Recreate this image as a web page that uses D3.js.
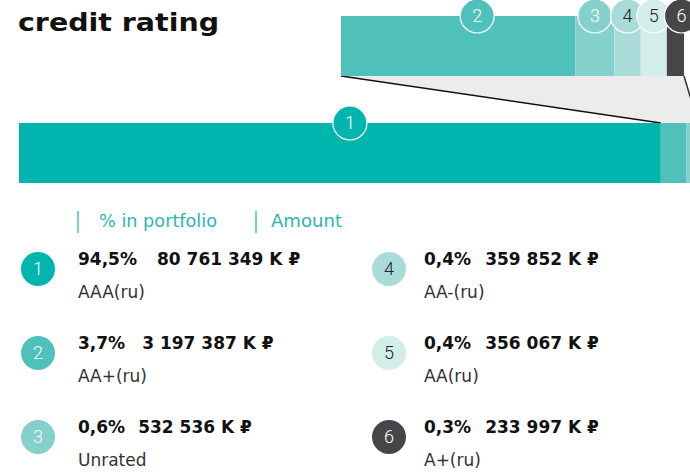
<!DOCTYPE html>
<html>
<head>
<meta charset="utf-8">
<script src="https://cdn.jsdelivr.net/npm/d3@7"></script>
<style>
  html, body { margin: 0; padding: 0; background: #fff; overflow: hidden; }
  svg { display: block; font-family: "DejaVu Sans", sans-serif; }
</style>
</head>
<body>
<div id="chart"></div>
<script>
const ratings = ["AAA(ru)", "AA+(ru)", "Unrated", "AA-(ru)", "AA(ru)", "A+(ru)"];
const shareLabels = ["94,5%", "3,7%", "0,6%", "0,4%", "0,4%", "0,3%"];
const amounts = [80761349, 3197387, 532536, 359852, 356067, 233997];

(function () {
  const width = 690, height = 474;
  const colors = ["#00b5ae", "#4fc1ba", "#84d0cb", "#a9dcd9", "#d3ede9", "#464547"];
  const darkText = [false, false, false, true, true, false];
  const teal = "#2bb7af";

  const data = amounts.map((v, i) => ({ i, id: i + 1, amount: v, rating: ratings[i], share: shareLabels[i] }));
  let acc = 0;
  data.forEach(d => { d.x0 = acc; acc += d.amount; d.x1 = acc; });
  const total = acc;

  const svg = d3.select("#chart").append("svg")
    .attr("width", width).attr("height", height);

  // title
  svg.append("text")
    .attr("x", 18).attr("y", 31)
    .attr("font-size", 25).attr("font-weight", 700)
    .attr("textLength", 201).attr("lengthAdjust", "spacingAndGlyphs")
    .attr("fill", "#111")
    .text("credit rating");

  // main bar
  const mainY = 123, barH = 60;
  const x = d3.scaleLinear().domain([0, total]).range([19, 698]);

  // zoomed bar (segments 2..6)
  const zoomY = 16;
  const xz = d3.scaleLinear().domain([data[1].x0, total]).range([341, 684]);
  const rest = data.slice(1);

  // connector
  const poly = [
    [xz(data[1].x0), zoomY + barH],
    [xz(total), zoomY + barH],
    [x(total), mainY],
    [x(data[1].x0), mainY]
  ];
  svg.append("path")
    .attr("d", d3.line()(poly) + "Z")
    .attr("fill", "#ececec");
  svg.append("line")
    .attr("x1", poly[0][0]).attr("y1", poly[0][1])
    .attr("x2", poly[3][0]).attr("y2", poly[3][1])
    .attr("stroke", "#111").attr("stroke-width", 1.5);
  svg.append("line")
    .attr("x1", poly[1][0]).attr("y1", poly[1][1])
    .attr("x2", poly[2][0]).attr("y2", poly[2][1])
    .attr("stroke", "#333").attr("stroke-width", 1.5);

  svg.append("g").selectAll("rect")
    .data(data)
    .join("rect")
    .attr("x", d => x(d.x0))
    .attr("y", mainY)
    .attr("width", d => x(d.x1) - x(d.x0))
    .attr("height", barH)
    .attr("fill", d => colors[d.i]);

  svg.append("g").selectAll("rect")
    .data(rest)
    .join("rect")
    .attr("x", d => xz(d.x0))
    .attr("y", zoomY)
    .attr("width", d => xz(d.x1) - xz(d.x0))
    .attr("height", barH)
    .attr("fill", d => colors[d.i]);

  // number badges
  const r = 17;
  const nudge = [10, 19, 0, 0, 0, 6];
  function badge(g, cx, cy, d, stroke) {
    const b = g.append("g").attr("transform", `translate(${cx},${cy})`);
    b.append("circle").attr("r", r)
      .attr("fill", colors[d.i])
      .attr("stroke", stroke ? "#fff" : "none")
      .attr("stroke-width", 1.2);
    b.append("text")
      .attr("text-anchor", "middle")
      .attr("dy", "0.36em")
      .attr("font-family", "Roboto, sans-serif")
      .attr("font-weight", 300)
      .attr("font-size", 18)
      .attr("fill", darkText[d.i] ? "#222" : "#fff")
      .text(d.id);
  }
  const badges = svg.append("g");
  badge(badges, (x(data[0].x0) + x(data[0].x1)) / 2 + nudge[0], mainY, data[0], true);
  rest.forEach(d => badge(badges, (xz(d.x0) + xz(d.x1)) / 2 + nudge[d.i], zoomY, d, true));

  // legend header
  const head = svg.append("g").attr("fill", teal).attr("font-size", 17);
  [[78, 99, "% in portfolio", 118], [256, 271, "Amount", 71]].forEach(([lx, tx, t, w]) => {
    head.append("line").attr("x1", lx).attr("x2", lx).attr("y1", 211).attr("y2", 233)
      .attr("stroke", teal).attr("stroke-width", 1.3);
    head.append("text").attr("x", tx).attr("y", 227)
      .attr("textLength", w).attr("lengthAdjust", "spacingAndGlyphs")
      .text(t);
  });

  // legend items
  const fmt = v => d3.format(",")(v).replace(/,/g, " ") + " K ₽";
  const gaps = [20, 17, 13, 14, 14, 14];
  const item = svg.append("g").selectAll("g")
    .data(data)
    .join("g")
    .attr("transform", d => {
      const col = d.i < 3 ? 0 : 1, row = d.i % 3;
      return `translate(${col ? 424 : 78},${259 + row * 84})`;
    });

  item.each(function (d) {
    const g = d3.select(this);
    const col = d.i < 3 ? 0 : 1;
    badge(g, col ? -35 : -40, 10, d, false);
    const t = g.append("text").attr("y", 6)
      .attr("font-size", 17).attr("font-weight", 700).attr("fill", "#111");
    t.append("tspan").text(d.share);
    t.append("tspan").attr("dx", gaps[d.i]).text(fmt(d.amount));
    g.append("text").attr("y", 39)
      .attr("font-size", 17).attr("font-weight", 400).attr("fill", "#333")
      .text(d.rating);
  });
})();
</script>
</body>
</html>
